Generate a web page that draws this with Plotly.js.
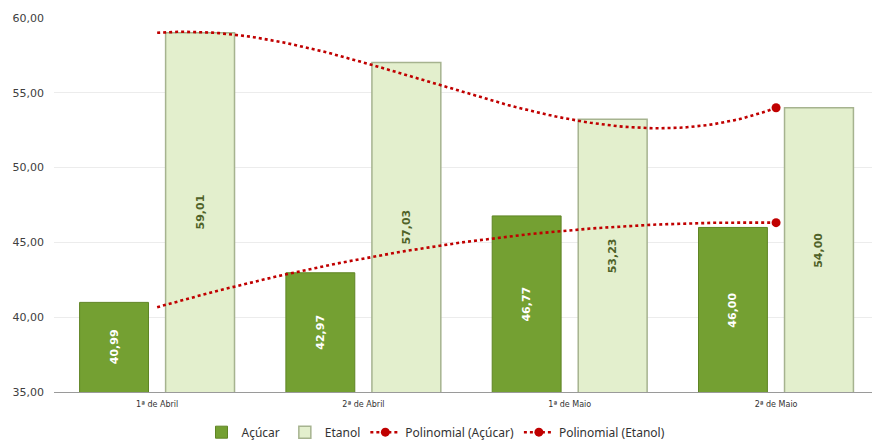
<!DOCTYPE html>
<html>
<head>
<meta charset="utf-8">
<script src="https://cdn.plot.ly/plotly-3.0.1.min.js"></script>
<style>html,body{margin:0;padding:0;background:#fff;}#chart{width:872px;height:441px;}</style>
</head>
<body>
<div id="chart"></div>
<script>
// ---- data ----
var categories = ["1ª de Abril", "2ª de Abril", "1ª de Maio", "2ª de Maio"];
var acucar = [40.99, 42.97, 46.77, 46.00];
var etanol = [59.01, 57.03, 53.23, 54.00];
var yTicks = [35, 40, 45, 50, 55, 60];
// polynomial trendline orders (as in the original chart)
var orderAcucar = 2;
var orderEtanol = 3;

// least-squares polynomial fit (x = 1..n), evaluated at fractional positions
function polyfit(ys, order) {
  var n = order + 1, A = [], b = [];
  for (var i = 0; i < n; i++) { A.push(new Array(n).fill(0)); b.push(0); }
  ys.forEach(function (y, k) {
    var x = k + 1;
    for (var i = 0; i < n; i++) {
      for (var j = 0; j < n; j++) A[i][j] += Math.pow(x, i + j);
      b[i] += y * Math.pow(x, i);
    }
  });
  for (var c = 0; c < n; c++) {
    var p = c;
    for (var r = c + 1; r < n; r++) if (Math.abs(A[r][c]) > Math.abs(A[p][c])) p = r;
    var t = A[c]; A[c] = A[p]; A[p] = t; var tb = b[c]; b[c] = b[p]; b[p] = tb;
    for (var r2 = c + 1; r2 < n; r2++) {
      var f = A[r2][c] / A[c][c];
      for (var j2 = c; j2 < n; j2++) A[r2][j2] -= f * A[c][j2];
      b[r2] -= f * b[c];
    }
  }
  var coef = new Array(n).fill(0);
  for (var r3 = n - 1; r3 >= 0; r3--) {
    var s = b[r3];
    for (var j3 = r3 + 1; j3 < n; j3++) s -= A[r3][j3] * coef[j3];
    coef[r3] = s / A[r3][r3];
  }
  return function (x) { var v = 0; for (var i = 0; i < n; i++) v += coef[i] * Math.pow(x, i); return v; };
}
function trend(ys, order) {
  var f = polyfit(ys, order), xs = [], vs = [], steps = 90;
  for (var i = 0; i <= steps; i++) {
    var xx = (ys.length - 1) * i / steps;
    xs.push(xx); vs.push(f(xx + 1));
  }
  return {x: xs, y: vs};
}

var yMin = yTicks[0], yMax = yTicks[yTicks.length - 1];
var xIdx = categories.map(function (_, i) { return i; });
var tA = trend(acucar, orderAcucar);
var tE = trend(etanol, orderEtanol);
var red = "#c00000";
var lineStyle = {color: red, width: 2.6, dash: "dot"};
var barW = 0.334, offA = -0.376, offE = 0.041;

function fmt(v) { return v.toFixed(2).replace(".", ","); }

var traces = [
  {type: "bar", name: "Açúcar", x: xIdx, y: acucar, width: barW, offset: offA,
   marker: {color: "#74a032", line: {color: "#5f8424", width: 1}}, hoverinfo: "skip"},
  {type: "bar", name: "Etanol", x: xIdx, y: etanol, width: barW, offset: offE,
   marker: {color: "#e3efcd", line: {color: "#a6b38f", width: 1.5}}, hoverinfo: "skip"},
  {type: "scatter", mode: "lines", x: tA.x, y: tA.y, line: lineStyle, showlegend: false, hoverinfo: "skip"},
  {type: "scatter", mode: "lines+markers", name: "Polinomial (Açúcar)",
   x: [tA.x[tA.x.length - 1]], y: [tA.y[tA.y.length - 1]],
   line: lineStyle, marker: {color: red, size: 9}, hoverinfo: "skip"},
  {type: "scatter", mode: "lines", x: tE.x, y: tE.y, line: lineStyle, showlegend: false, hoverinfo: "skip"},
  {type: "scatter", mode: "lines+markers", name: "Polinomial (Etanol)",
   x: [tE.x[tE.x.length - 1]], y: [tE.y[tE.y.length - 1]],
   line: lineStyle, marker: {color: red, size: 9}, hoverinfo: "skip"}
];

// value labels, centred in the visible part of each bar
var annotations = [];
acucar.forEach(function (v, i) {
  annotations.push({x: i + offA + barW / 2, y: (yMin + v) / 2, xref: "x", yref: "y",
    text: "<b>" + fmt(v) + "</b>", showarrow: false, textangle: -90,
    font: {family: "DejaVu Sans", size: 11, color: "#ffffff"}});
});
etanol.forEach(function (v, i) {
  annotations.push({x: i + offE + barW / 2, y: (yMin + v) / 2, xref: "x", yref: "y",
    text: "<b>" + fmt(v) + "</b>", showarrow: false, textangle: -90,
    font: {family: "DejaVu Sans", size: 11, color: "#4f6228"}});
});

var layout = {
  width: 872, height: 441,
  margin: {l: 54, r: 0, t: 18, b: 49},
  paper_bgcolor: "#ffffff", plot_bgcolor: "#ffffff",
  separators: ",.",
  barmode: "overlay",
  font: {family: "DejaVu Sans", color: "#404040"},
  annotations: annotations,
  xaxis: {
    range: [-0.5, 3.465], tickmode: "array", tickvals: xIdx, ticktext: categories,
    showgrid: false, zeroline: false, showline: true, linecolor: "#9a9a9a", linewidth: 1,
    ticks: "", tickfont: {family: "DejaVu Sans", size: 8, color: "#333333"}, ticklabelstandoff: 4
  },
  yaxis: {
    range: [yMin, yMax], tickmode: "array", tickvals: yTicks, tickformat: ".2f",
    showgrid: true, gridcolor: "#ececec", gridwidth: 1, zeroline: false, showline: false,
    ticks: "", tickfont: {family: "DejaVu Sans", size: 11, color: "#404040"}, ticklabelstandoff: 9
  },
  showlegend: true,
  legend: {
    orientation: "h", xref: "container", x: 0.5, xanchor: "center", yref: "container", y: 0.02, yanchor: "middle",
    font: {family: "Noto Sans", size: 12, color: "#333333"}, itemwidth: 30, traceorder: "normal",
    bgcolor: "rgba(0,0,0,0)"
  }
};

Plotly.newPlot("chart", traces, layout, {displayModeBar: false, staticPlot: true});
</script>
</body>
</html>
